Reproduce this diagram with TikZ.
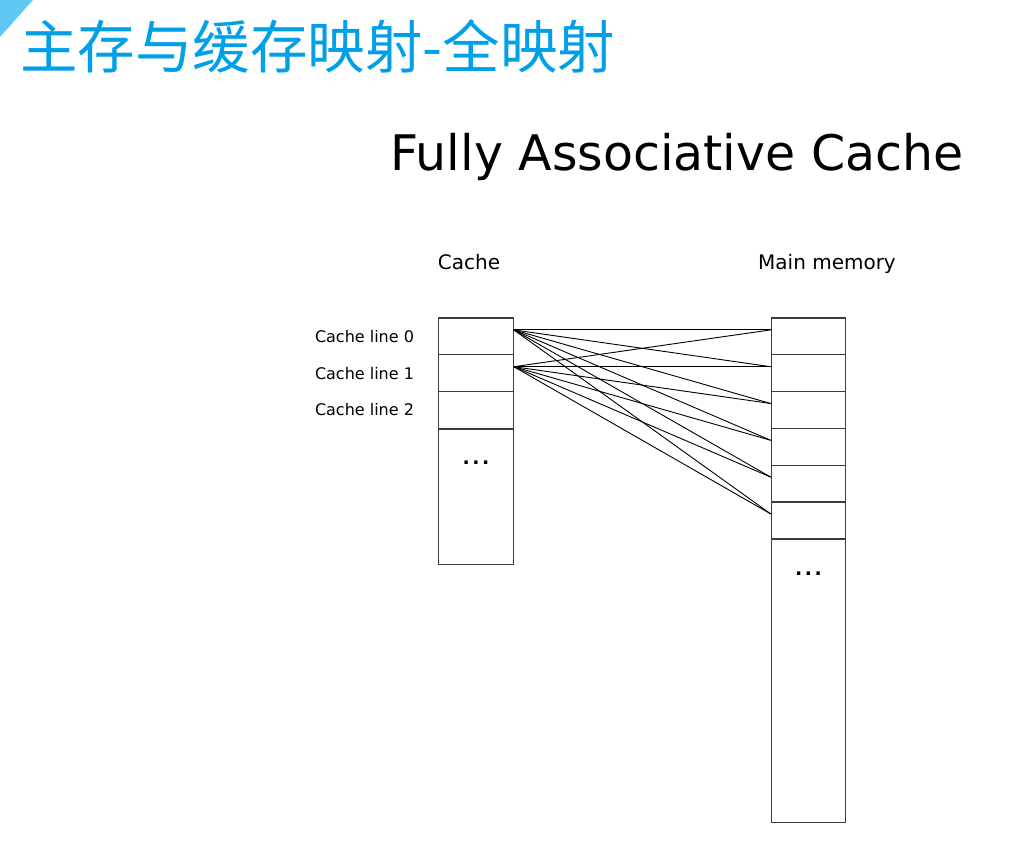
\documentclass[tikz,border=0pt]{standalone}
\usepackage{fontspec}
\setmainfont{DejaVu Sans}
\newfontfamily\cjk{Noto Sans CJK SC}
\definecolor{titleblue}{RGB}{0,160,233}
\definecolor{cornerblue}{RGB}{95,200,245}
\definecolor{boxgray}{RGB}{60,60,60}
\tikzset{
    cell/.style={draw=boxgray, line width=1.1pt, inner sep=0pt, minimum width=\boxwidth pt},
    link/.style={line width=0.9pt, black},
    dots/.style={anchor=base, inner sep=0pt, font=\bfseries\fontsize{19}{22}\selectfont}
}
\def\boxwidth{74.5}
\begin{document}
\begin{tikzpicture}[x=1pt, y=-1pt]
        % Define the dimensions of the blocks
        \def\rowheight{36.8}
        \def\toprow{318}
        \def\cachex{476}
        \def\memx{808.5}

        \useasboundingbox (0,0) rectangle (1022,845);
        \fill[white] (0,0) rectangle (1022,845);

        % Corner mark and slide title
        \fill[cornerblue] (0,0) -- (33,0) -- (0,37) -- cycle;
        \node[anchor=west, inner sep=0pt, text=titleblue] (slidetitle) at (20,46) {\cjk\fontsize{57.5}{60}\selectfont 主存与缓存映射-全映射};
        \node[anchor=base west, inner sep=0pt] (title) at (390,171) {\fontsize{49}{60}\selectfont Fully Associative Cache};

        % Column headers
        \node[anchor=base, inner sep=0pt] (cachehead) at (469,269) {\fontsize{20}{24}\selectfont Cache};
        \node[anchor=base, inner sep=0pt] (memhead) at (827,269) {\fontsize{20}{24}\selectfont Main memory};

        % Draw the cache lines and their labels
        \foreach \i in {0,1,2} {
            \node[cell, minimum height=\rowheight pt] (cl\i) at (\cachex, \toprow+\rowheight*\i+0.5*\rowheight) {};
            \node[anchor=east, inner sep=0pt] (lab\i) at ([xshift=-24pt]cl\i.west) {\fontsize{16}{20}\selectfont Cache line \i};
        }
        \node[cell, anchor=north, minimum height=135pt] (cacherest) at (cl2.south) {};
        \node[dots] (cachedots) at ([yshift=-36pt]cacherest.north) {.\hspace{2.5pt}.\hspace{2.5pt}.};

        % Draw the memory blocks
        \foreach \j in {0,...,5} {
            \node[cell, minimum height=\rowheight pt] (mb\j) at (\memx, \toprow+\rowheight*\j+0.5*\rowheight) {};
        }
        \node[cell, anchor=north, minimum height=283pt] (memrest) at (mb5.south) {};
        \node[dots] (memdots) at ([yshift=-36pt]memrest.north) {.\hspace{2.5pt}.\hspace{2.5pt}.};

        % Every cache line may hold any memory block
        \foreach \i in {0,1} {
            \foreach \j in {0,...,5} {
                \draw[link] ([yshift=6.5pt]cl\i.east) -- ([yshift=6.5pt]mb\j.west);
            }
        }
    \end{tikzpicture}
\end{document}
